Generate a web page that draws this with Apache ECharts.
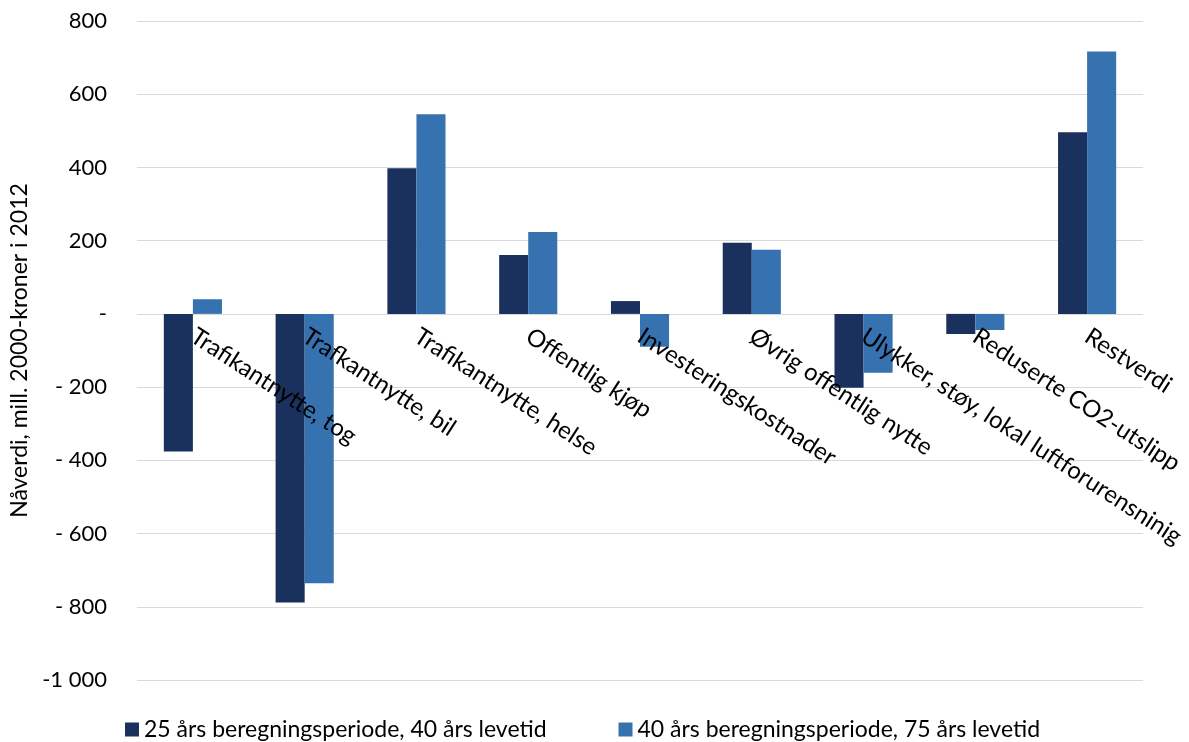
<!DOCTYPE html>
<html>
<head>
<meta charset="utf-8">
<script src="https://cdn.jsdelivr.net/npm/echarts@6/dist/echarts.min.js"></script>
<style>
  html, body { margin: 0; padding: 0; background: #ffffff; }
  #chart { width: 1189px; height: 742px; }
</style>
</head>
<body>
<div id="chart"></div>
<script>
// Nåverdi per nyttekomponent, to beregningsalternativer
const categories = [
  'Trafikantnytte, tog',
  'Trafkantnytte, bil',
  'Trafikantnytte, helse',
  'Offentlig kjøp',
  'Investeringskostnader',
  'Øvrig offentlig nytte',
  'Ulykker, støy, lokal luftforurensninig',
  'Reduserte CO2-utslipp',
  'Restverdi'
];
const series25 = [-376, -788, 398, 161, 35, 194, -202, -55, 496];
const series40 = [40, -736, 545, 224, -90, 175, -161, -44, 717];
const seriesNames = [
  '25 års beregningsperiode, 40 års levetid',
  '40 års beregningsperiode, 75 års levetid'
];
const yTicks = { min: -1000, max: 800, interval: 200 };

const FONT = 'Lato, "Open Sans", sans-serif';
const GRID = { left: 137, right: 46, top: 21, bottom: 62 };
const CHART_H = 742;

// category labels sit on the zero line: shift the x axis up from the plot bottom
const plotH = CHART_H - GRID.top - GRID.bottom;
const zeroOffset = (0 - yTicks.min) / (yTicks.max - yTicks.min) * plotH;

function fmtTick(v) {
  if (v === 0) return '-';
  const n = Math.abs(v);
  const s = n >= 1000 ? String(n).replace(/\B(?=(\d{3})+(?!\d))/g, ' ') : String(n);
  if (v > 0) return s;
  return n >= 1000 ? '-' + s : '- ' + s;
}

const chart = echarts.init(document.getElementById('chart'), null, { renderer: 'canvas' });
chart.setOption({
  animation: false,
  backgroundColor: '#ffffff',
  textStyle: { fontFamily: FONT },
  grid: Object.assign({ containLabel: false, outerBoundsMode: 'none' }, GRID),
  legend: {
    bottom: -4,
    left: 120,
    itemWidth: 14,
    itemHeight: 14,
    itemGap: 72,
    icon: 'rect',
    textStyle: { fontFamily: FONT, fontSize: 23, color: '#000000' },
    data: seriesNames
  },
  xAxis: {
    type: 'category',
    data: categories,
    z: 5,
    position: 'bottom',
    offset: -zeroOffset,
    axisLine: { show: false, onZero: false },
    axisTick: { show: false },
    axisLabel: {
      rotate: -33,
      margin: 20,
      interval: 0,
      fontFamily: FONT,
      fontSize: 24,
      color: '#000000'
    }
  },
  yAxis: {
    type: 'value',
    min: yTicks.min,
    max: yTicks.max,
    interval: yTicks.interval,
    name: 'Nåverdi, mill. 2000-kroner i 2012',
    nameLocation: 'middle',
    nameGap: 102,
    nameTextStyle: { fontFamily: FONT, fontSize: 23, color: '#000000' },
    axisLine: { show: false },
    axisTick: { show: false },
    splitLine: { lineStyle: { color: '#d9d9d9', width: 1 } },
    axisLabel: {
      formatter: fmtTick,
      margin: 30,
      fontFamily: FONT,
      fontSize: 22,
      color: '#000000'
    }
  },
  series: [
    {
      name: seriesNames[0],
      type: 'bar',
      data: series25,
      barGap: '0%',
      barCategoryGap: '48%',
      itemStyle: { color: '#1a315e' }
    },
    {
      name: seriesNames[1],
      type: 'bar',
      data: series40,
      barGap: '0%',
      barCategoryGap: '48%',
      itemStyle: { color: '#3672b0' }
    }
  ]
});
</script>
</body>
</html>
